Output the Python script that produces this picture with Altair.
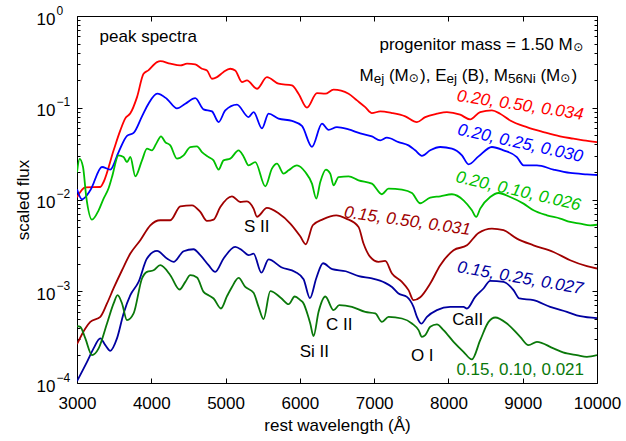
import altair as alt
import pandas as pd

FONT = "Liberation Sans"

# ---------------- data ----------------
# wavelengths in Angstrom, values are log10(scaled flux)
red_wl = [3000, 3112, 3314, 3358, 3493, 3583, 3650, 3718, 3808, 3896, 3960, 4077, 4121, 4256, 4391,
          4481, 4592, 4682, 4750, 4817, 4884, 4969, 5063, 5130, 5221, 5288, 5423, 5557, 5713, 5894,
          5982, 6096, 6230, 6342, 6454, 6656, 6769, 6880, 6970, 7082, 7240, 7419, 7576, 7688, 7845,
          7980, 8158, 8293, 8427, 8585, 8696, 8831, 9056, 9280, 9503, 9684, 9818, 10000]
red_lf = [-1.976, -1.867, -1.864, -1.809, -1.464, -1.247, -1.116, -1.061, -0.884, -0.629, -0.593, -0.503, -0.492, -0.520, -0.539,
          -0.520, -0.528, -0.575, -0.593, -0.684, -0.666, -0.612, -0.575, -0.593, -0.721, -0.702, -0.793, -0.666, -0.738, -0.757,
          -0.847, -0.999, -0.840, -0.847, -0.803, -0.847, -0.920, -0.993, -1.058, -1.040, -1.058, -1.094, -1.156, -1.102, -1.065,
          -1.047, -1.076, -1.127, -1.047, -1.029, -1.065, -1.138, -1.211, -1.265, -1.312, -1.337, -1.355, -1.374]

blue_wl = [3000, 3067, 3179, 3336, 3448, 3560, 3673, 3762, 3875, 3964, 4081, 4211, 4346, 4458, 4592,
           4704, 4817, 4906, 4996, 5153, 5310, 5377, 5490, 5579, 5713, 5894, 6028, 6163, 6298, 6386,
           6499, 6656, 6813, 6970, 7082, 7172, 7329, 7463, 7553, 7643, 7755, 7890, 8047, 8182, 8271,
           8405, 8585, 8742, 8922, 9011, 9191, 9414, 9639, 9864, 10000]
blue_lf = [-1.889, -1.998, -1.900, -1.646, -1.674, -1.483, -1.306, -1.274, -1.094, -0.953, -0.847, -0.904, -1.007, -0.956, -0.896,
           -1.018, -1.040, -1.156, -1.029, -0.966, -1.102, -1.047, -1.225, -1.065, -1.119, -1.143, -1.198, -1.426, -1.174, -1.241,
           -1.211, -1.236, -1.279, -1.312, -1.355, -1.326, -1.374, -1.410, -1.464, -1.524, -1.464, -1.428, -1.446, -1.519, -1.617,
           -1.530, -1.428, -1.464, -1.537, -1.628, -1.628, -1.674, -1.711, -1.726, -1.733]

lgreen_wl = [3000, 3035, 3081, 3125, 3202, 3291, 3358, 3425, 3471, 3560, 3627, 3673, 3718, 3785, 3875,
             3942, 4009, 4067, 4131, 4188, 4256, 4346, 4435, 4525, 4615, 4682, 4771, 4838, 4906, 4973,
             5063, 5175, 5242, 5310, 5400, 5535, 5624, 5692, 5781, 5848, 5961, 6073, 6163, 6221, 6275,
             6351, 6409, 6454, 6521, 6656, 6790, 6970, 7105, 7194, 7374, 7509, 7620, 7755, 7890, 8047,
             8203, 8316, 8374, 8428, 8562, 8674, 8831, 9011, 9145, 9326, 9505, 9639, 9774, 9908, 10000]
lgreen_lf = [-1.704, -1.557, -1.646, -1.973, -2.219, -2.118, -1.990, -1.878, -1.755, -1.519, -1.537, -1.592, -1.537, -1.747, -1.573,
             -1.446, -1.464, -1.391, -1.312, -1.374, -1.410, -1.555, -1.519, -1.428, -1.421, -1.483, -1.537, -1.573, -1.674, -1.573,
             -1.555, -1.464, -1.530, -1.628, -1.592, -1.856, -1.664, -1.609, -1.718, -1.682, -1.628, -1.701, -1.827, -1.990, -1.809,
             -1.674, -1.718, -1.845, -1.755, -1.747, -1.791, -1.827, -1.943, -1.881, -1.892, -1.929, -2.041, -1.979, -1.965, -1.943,
             -2.009, -2.118, -2.190, -2.099, -1.973, -1.929, -1.973, -2.045, -2.118, -2.172, -2.208, -2.245, -2.262, -2.281, -2.275]

dred_wl = [3000, 3112, 3179, 3314, 3404, 3493, 3606, 3718, 3852, 3987, 4121, 4256, 4391, 4548, 4660,
           4750, 4839, 4929, 5086, 5198, 5288, 5377, 5423, 5557, 5713, 5871, 6005, 6079, 6174, 6308,
           6490, 6624, 6790, 6857, 6947, 7059, 7149, 7240, 7374, 7463, 7530, 7621, 7755, 7890, 8069,
           8249, 8405, 8585, 8742, 8922, 9145, 9414, 9639, 9864, 10000]
dred_lf = [-3.576, -3.405, -3.334, -3.279, -3.133, -2.967, -2.771, -2.589, -2.444, -2.281, -2.226, -2.226, -2.074, -2.063, -2.136,
           -2.234, -2.219, -2.082, -1.965, -2.027, -2.020, -2.099, -2.188, -2.092, -2.150, -2.262, -2.401, -2.488, -2.281, -2.216,
           -2.172, -2.208, -2.299, -2.480, -2.626, -2.680, -2.670, -2.807, -2.898, -2.988, -3.097, -3.065, -2.916, -2.716, -2.553,
           -2.499, -2.365, -2.317, -2.335, -2.426, -2.499, -2.572, -2.662, -2.727, -2.752]

dblue_wl = [3000, 3135, 3223, 3314, 3381, 3448, 3538, 3627, 3718, 3829, 3942, 4077, 4211, 4300, 4435,
            4569, 4660, 4771, 4861, 4973, 5130, 5221, 5310, 5377, 5483, 5579, 5750, 5938, 6050, 6136,
            6221, 6312, 6436, 6618, 6793, 6970, 7149, 7240, 7328, 7441, 7530, 7576, 7634, 7711, 7845,
            8024, 8203, 8249, 8360, 8472, 8562, 8742, 8876, 8956, 9145, 9370, 9595, 9774, 10000]
dblue_lf = [-3.979, -3.769, -3.623, -3.514, -3.587, -3.649, -3.514, -3.242, -3.043, -2.898, -2.643, -2.561, -2.643, -2.680, -2.564,
            -2.542, -2.607, -2.716, -2.789, -2.643, -2.517, -2.553, -2.607, -2.591, -2.798, -2.653, -2.738, -2.789, -2.869, -3.076,
            -2.858, -2.695, -2.760, -2.782, -2.836, -2.861, -2.909, -2.953, -3.024, -3.061, -3.170, -3.279, -3.353, -3.279, -3.206,
            -3.170, -3.170, -3.188, -3.061, -2.970, -2.887, -2.898, -2.988, -3.079, -3.097, -3.170, -3.225, -3.272, -3.293]

dgreen_wl = [3000, 3044, 3112, 3202, 3291, 3404, 3493, 3546, 3606, 3673, 3762, 3875, 3942, 4031, 4121,
             4256, 4381, 4458, 4525, 4615, 4704, 4771, 4839, 4938, 5019, 5086, 5175, 5265, 5377, 5444,
             5511, 5602, 5750, 5848, 5931, 6005, 6050, 6100, 6140, 6184, 6252, 6342, 6454, 6530, 6701,
             6880, 7015, 7105, 7194, 7374, 7509, 7598, 7643, 7688, 7755, 7845, 7934, 8069, 8203, 8316,
             8428, 8540, 8630, 8787, 8966, 9078, 9191, 9414, 9595, 9729, 9864, 10000]
dgreen_lf = [-3.380, -3.388, -3.514, -3.696, -3.623, -3.351, -3.133, -3.043, -3.133, -3.315, -3.242, -2.861, -2.789, -2.771, -2.716,
             -2.825, -2.981, -2.898, -2.825, -2.850, -3.007, -3.043, -3.079, -3.188, -3.054, -2.953, -2.855, -2.953, -3.016, -3.170,
             -3.304, -2.999, -3.076, -3.141, -3.057, -3.097, -3.133, -3.242, -3.351, -3.489, -3.223, -3.057, -3.206, -3.152, -3.170,
             -3.225, -3.242, -3.334, -3.279, -3.297, -3.351, -3.424, -3.497, -3.478, -3.388, -3.362, -3.424, -3.551, -3.660, -3.743,
             -3.533, -3.334, -3.286, -3.351, -3.497, -3.587, -3.551, -3.623, -3.678, -3.696, -3.715, -3.696]

series_names = ["0.20, 0.50, 0.034", "0.20, 0.25, 0.030", "0.20, 0.10, 0.026",
                "0.15, 0.50, 0.031", "0.15, 0.25, 0.027", "0.15, 0.10, 0.021"]
series_colors = ["#ff0000", "#0000ff", "#00c000", "#a00000", "#0000a0", "#0a780a"]
series_data = [(red_wl, red_lf), (blue_wl, blue_lf), (lgreen_wl, lgreen_lf),
               (dred_wl, dred_lf), (dblue_wl, dblue_lf), (dgreen_wl, dgreen_lf)]

# series label placement (wavelength, flux, rotation angle, italic)
label_wl = [8966, 8966, 8940, 7446, 8966, 8966]
label_flux = [0.106, 0.0409, 0.01228, 0.00579, 0.001387, 0.000138]
label_angle = [8.5, 12.5, 13, 8, 10, 0]
label_italic = [True, True, True, True, True, False]

# ion annotations
ion_text = ["S II", "Si II", "C II", "O I", "CaII"]
ion_wl = [5420, 6194, 6530, 7647, 8260]
ion_flux = [0.00498, 0.000217, 0.000427, 0.000196, 0.000484]

x_ticks = [3000, 4000, 5000, 6000, 7000, 8000, 9000, 10000]
y_major = [1e-4, 1e-3, 1e-2, 1e-1, 1]
y_minor = [k * 10.0 ** e for e in (-4, -3, -2, -1) for k in range(2, 10)]

# ---------------- build tables ----------------
rows = []
for name, (wl, lf) in zip(series_names, series_data):
    for w, l in zip(wl, lf):
        rows.append({"series": name, "wavelength": w, "flux": 10 ** l})
df = pd.DataFrame(rows)

x_scale = alt.Scale(domain=[3000, 10000], nice=False, zero=False)
y_scale = alt.Scale(type="log", domain=[1e-4, 1], nice=False)

base_axis = dict(grid=False, domain=False, tickColor="black", tickWidth=1, labelColor="black",
                 labelFont=FONT, titleFont=FONT, titleColor="black", titleFontWeight="normal",
                 labelFlush=False)

x_bottom = alt.Axis(orient="bottom", values=x_ticks, format="d", offset=-5, tickSize=5,
                    labelFontSize=17, labelPadding=12, title="rest wavelength (Å)",
                    titleFontSize=17, titlePadding=6, **base_axis)
x_top = alt.Axis(orient="top", values=x_ticks, offset=-5, tickSize=5, labels=False, title=None, **base_axis)

y_left = alt.Axis(orient="left", values=y_major, labelExpr="'10'", offset=-5, tickSize=5,
                  labelFontSize=17, labelPadding=22, labelOffset=3, title="scaled flux",
                  titleFontSize=17, titlePadding=4, **base_axis)
exp_expr = ("datum.value > 0.5 ? '0' : datum.value > 0.05 ? '−1' : datum.value > 0.005 ? '−2' : "
            "datum.value > 0.0005 ? '−3' : '−4'")
y_exp = alt.Axis(orient="left", values=y_major, labelExpr=exp_expr, offset=-5, tickSize=5, tickOpacity=0,
                 labelFontSize=12, labelAlign="left", labelPadding=21, labelOffset=-6, title=None, **base_axis)
y_right = alt.Axis(orient="right", values=y_major, offset=-5, tickSize=5, labels=False, title=None, **base_axis)
y_minor_left = alt.Axis(orient="left", values=y_minor, offset=-3, tickSize=3, labels=False, title=None, **base_axis)
y_minor_right = alt.Axis(orient="right", values=y_minor, offset=-3, tickSize=3, labels=False, title=None, **base_axis)

base = alt.Chart(df)

lines = base.mark_line(strokeWidth=1.8, clip=True, interpolate="monotone").encode(
    x=alt.X("wavelength:Q", scale=x_scale, axis=x_bottom),
    y=alt.Y("flux:Q", scale=y_scale, axis=y_left),
    color=alt.Color("series:N", scale=alt.Scale(domain=series_names, range=series_colors), legend=None),
)


def ghost(xaxis, yaxis):
    return base.mark_line(opacity=0).encode(
        x=alt.X("wavelength:Q", scale=x_scale, axis=xaxis),
        y=alt.Y("flux:Q", scale=y_scale, axis=yaxis),
        detail="series:N",
    )


layers = [lines,
          ghost(None, y_exp),
          ghost(x_top, y_right),
          ghost(None, y_minor_left),
          ghost(None, y_minor_right)]


def text_layer(data, font=FONT, **mark):
    return alt.Chart(pd.DataFrame(data)).mark_text(font=font, **mark).encode(
        x=alt.X("wavelength:Q", scale=x_scale, axis=None),
        y=alt.Y("flux:Q", scale=y_scale, axis=None),
        text="label:N",
    )


# series labels
for name, col, w, f, ang, it in zip(series_names, series_colors, label_wl, label_flux, label_angle, label_italic):
    mark = dict(fontSize=17, align="center", baseline="middle", color=col, angle=ang)
    if it:
        mark["fontStyle"] = "italic"
    layers.append(text_layer({"label": [name], "wavelength": [w], "flux": [f]}, **mark))

# ion labels
layers.append(text_layer({"label": ion_text, "wavelength": ion_wl, "flux": ion_flux},
                         fontSize=17, align="center", baseline="middle", color="black"))

# top-left title
layers.append(text_layer({"label": ["peak spectra"], "wavelength": [3304], "flux": [0.519]},
                         fontSize=17, align="left", baseline="alphabetic", color="black"))

# progenitor mass line
layers.append(text_layer({"label": ["progenitor mass = 1.50 M"], "wavelength": [9673], "flux": [0.4285]},
                         fontSize=17, align="right", baseline="alphabetic", color="black"))
layers.append(text_layer({"label": ["⊙"], "wavelength": [9680], "flux": [0.4285]}, font="DejaVu Sans",
                         fontSize=12, align="left", baseline="alphabetic", dy=1, color="black"))

# parameter header with subscripts
hdr_main = {"label": ["M", "(M", "), E", "(B), M", "(M", ")"],
            "wavelength": [6803, 7199, 7618, 8179, 9238, 9658], "flux": [0.195] * 6}
hdr_sub = {"label": ["ej", "ej", "56Ni"], "wavelength": [6995, 7974, 8802], "flux": [0.195] * 3}
hdr_sun = {"label": ["⊙", "⊙"], "wavelength": [7466, 9506], "flux": [0.195] * 2}
layers.append(text_layer(hdr_main, fontSize=17, align="left", baseline="alphabetic", color="black"))
layers.append(text_layer(hdr_sub, fontSize=13.5, align="left", baseline="alphabetic", dy=2, color="black"))
layers.append(text_layer(hdr_sun, font="DejaVu Sans", fontSize=12, align="left", baseline="alphabetic",
                         dy=1, color="black"))

chart = alt.layer(*layers).resolve_axis(x="independent", y="independent").properties(
    width=520, height=367,
    padding={"left": 77, "top": 16, "right": 29, "bottom": 58},
    autosize=alt.AutoSizeParams(type="none"),
).configure(font=FONT).configure_view(stroke="black", strokeWidth=1)

chart.save("out.html", embed_options={"renderer": "svg", "actions": False})
